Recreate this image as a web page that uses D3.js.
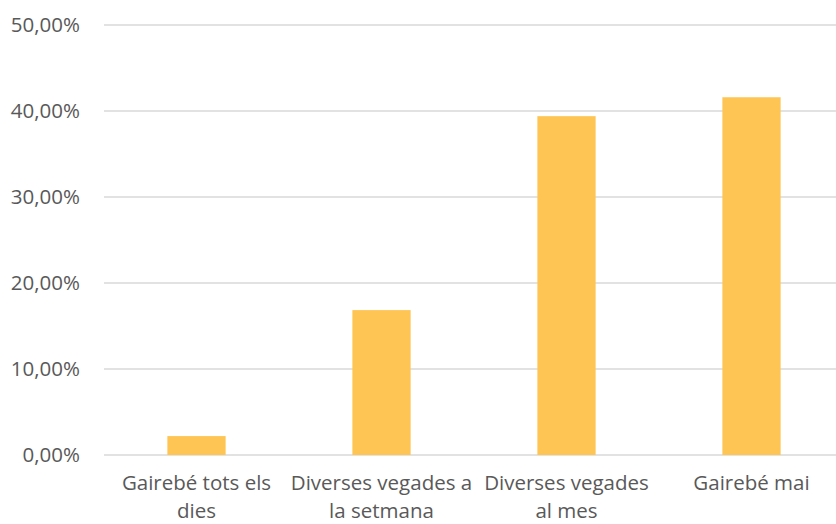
<!DOCTYPE html>
<html>
<head>
<meta charset="utf-8">
<script src="https://cdn.jsdelivr.net/npm/d3@7"></script>
<style>
  body { margin: 0; background: #fff; }
  svg { display: block; }
  text { font-family: "Open Sans", "Liberation Sans", sans-serif; fill: #595959; }
</style>
</head>
<body>
<svg id="chart" width="836" height="524"></svg>
<script>
// categories (line breaks as in the original chart)
const categories = ["Gairebé tots els|dies", "Diverses vegades a|la setmana", "Diverses vegades|al mes", "Gairebé mai"];
const values = [2.2, 16.85, 39.4, 41.6];
const yTicks = [0, 10, 20, 30, 40, 50];

const svg = d3.select("#chart");
const plot = { left: 104, right: 844, top: 25, bottom: 455 };

const x = d3.scaleBand()
    .domain(categories)
    .range([plot.left, plot.right])
    .padding(0);

const y = d3.scaleLinear()
    .domain([0, 50])
    .range([plot.bottom, plot.top]);

const barW = x.bandwidth() * 0.315;

// gridlines
svg.append("g")
    .selectAll("line")
    .data(yTicks)
    .enter().append("line")
    .attr("x1", plot.left)
    .attr("x2", 836)
    .attr("y1", d => y(d))
    .attr("y2", d => y(d))
    .attr("stroke", "#d9d9d9")
    .attr("stroke-width", 1.3);

// y labels
const fmt = d => d.toFixed(2).replace(".", ",") + "%";
svg.append("g")
    .selectAll("text")
    .data(yTicks)
    .enter().append("text")
    .attr("x", 80)
    .attr("y", d => y(d))
    .attr("dy", "0.35em")
    .attr("text-anchor", "end")
    .style("font-size", "20.5px")
    .text(fmt);

// bars
svg.append("g")
    .selectAll("rect")
    .data(values)
    .enter().append("rect")
    .attr("x", (d, i) => x(categories[i]) + (x.bandwidth() - barW) / 2)
    .attr("y", d => y(d))
    .attr("width", barW)
    .attr("height", d => y(0) - y(d))
    .attr("fill", "#ffc554");

// x labels
const lab = svg.append("g")
    .selectAll("text")
    .data(categories)
    .enter().append("text")
    .attr("text-anchor", "middle")
    .style("font-size", "20.5px")
    .attr("transform", d => `translate(${x(d) + x.bandwidth() / 2},490)`);

lab.selectAll("tspan")
    .data(d => d.split("|"))
    .enter().append("tspan")
    .attr("x", 0)
    .attr("y", (d, i) => i * 28)
    .text(d => d);
</script>
</body>
</html>
